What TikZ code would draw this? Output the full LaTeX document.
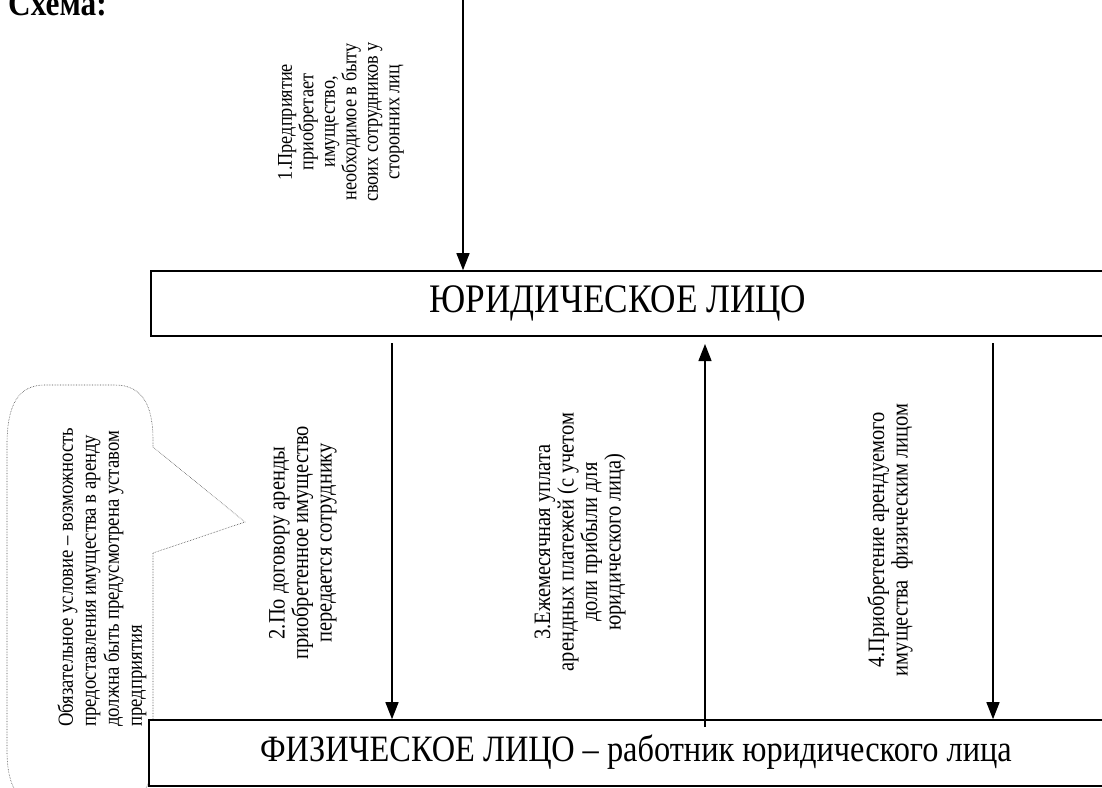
\documentclass[tikz,border=0pt]{standalone}
\usepackage{fontspec}
\setmainfont{Liberation Serif}[FakeStretch=0.87]
\usetikzlibrary{arrows.meta}
\tikzset{
  box/.style={draw, line width=1.6pt, rectangle, inner sep=0pt, minimum width=1000pt, anchor=west},
  bigtext/.style={inner sep=0pt},
  lab/.style={rotate=90, align=center, inner sep=0pt, font=\fontsize{23.5}{23.5}\selectfont},
  labsmall/.style={rotate=90, align=center, inner sep=0pt, font=\fontsize{21}{21.5}\selectfont},
  arr/.style={line width=1.3pt, -{Triangle[width=13pt,length=17pt]}},
  callout/.style={draw=black!70, densely dotted, line width=0.6pt}
}
\begin{document}
\begin{tikzpicture}[x=1pt,y=-1pt]
\useasboundingbox (0,0) rectangle (1102,787);
\begin{scope}
\clip (0,0) rectangle (1102,787);
% title
\node[font=\fontsize{36}{40}\selectfont\bfseries, inner sep=0pt, anchor=base west] (title) at (8,16) {Схема:};
% callout
\draw[callout] (153,447) -- (245,522) -- (153,553) -- (153,750)
  .. controls (153,790) and (140,805) .. (115,805) -- (45,805)
  .. controls (20,805) and (7,790) .. (7,750) -- (7,445)
  .. controls (7,405) and (18,385) .. (45,385) -- (115,385)
  .. controls (142,385) and (153,405) .. (153,440) -- cycle;
\node[rotate=90, align=left, inner sep=0pt, anchor=west, font=\fontsize{21.5}{23}\selectfont] (note) at (102,727)
  {Обязательное условие – возможность\\ предоставления имущества в аренду\\ должна быть предусмотрена уставом\\ предприятия};
% boxes
\node[box, minimum height=65pt] (ur) at (150,303.5) {};
\node[bigtext, font=\fontsize{40.5}{46}\selectfont] (urt) at (618,303) {ЮРИДИЧЕСКОЕ ЛИЦО};
\node[box, fill=white, minimum height=66pt] (fiz) at (148,753) {};
\node[bigtext, font=\fontsize{37.2}{43}\selectfont] (fizt) at (636,752) {ФИЗИЧЕСКОЕ ЛИЦО – работник юридического лица};
% arrows
\coordinate (a1) at (463,0);
\draw[arr] (a1) -- (a1 |- ur.north);
\coordinate (a2) at (392,343);
\draw[arr] (a2) -- (a2 |- fiz.north);
\coordinate (a3s) at (705,727);
\coordinate (a3e) at (705,344);
\draw[arr] (a3s) -- (a3e);
\coordinate (a4) at (993,343);
\draw[arr] (a4) -- (a4 |- fiz.north);
% labels
\node[labsmall] (l1) at (341,122) {1.Предприятие\\ приобретает\\ имущество,\\ необходимое в быту\\ своих сотрудников у\\ сторонних лиц};
\node[lab] (l2) at (303,543) {2.По договору аренды\\ приобретенное имущество\\ передается сотруднику};
\node[lab] (l3) at (580,542) {3.Ежемесячная уплата\\ арендных платежей (с учетом\\ доли прибыли для\\ юридического лица)};
\node[lab] (l4) at (890,540) {4.Приобретение арендуемого\\ имущества~ физическим лицом};
\end{scope}
\end{tikzpicture}
\end{document}
